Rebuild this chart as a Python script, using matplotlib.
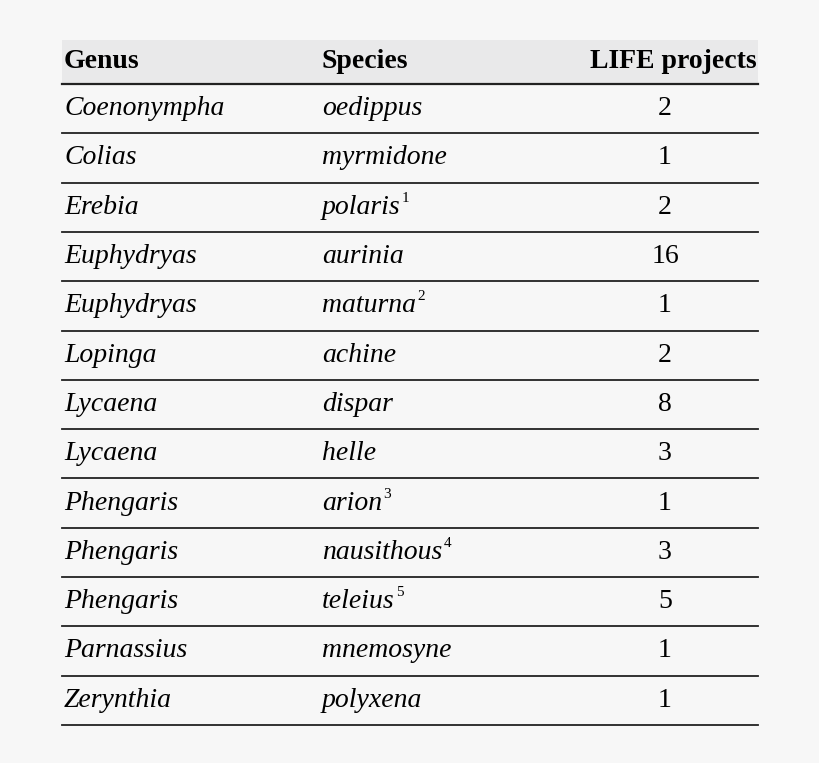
import matplotlib
matplotlib.use("Agg")
import matplotlib.pyplot as plt

genus = ["Coenonympha","Colias","Erebia","Euphydryas","Euphydryas","Lopinga","Lycaena","Lycaena",
         "Phengaris","Phengaris","Phengaris","Parnassius","Zerynthia"]
species = ["oedippus","myrmidone","polaris","aurinia","maturna","achine","dispar","helle",
           "arion","nausithous","teleius","mnemosyne","polyxena"]
notes = ["","","1","","2","","","","3","4","5","",""]
projects = [2,1,2,16,1,2,8,3,1,3,5,1,1]
headers = ["Genus","Species","LIFE projects"]

W, H = 820, 763
fig = plt.figure(figsize=(W/100, H/100), dpi=100, facecolor="#f7f7f7")
ax = fig.add_axes([0,0,1,1])
ax.set_xlim(0, W); ax.set_ylim(H, 0); ax.axis("off")
fam = "Liberation Serif"
ax.add_patch(plt.Rectangle((62, 40), 696, 44, color="#e9e9ea", lw=0))
ax.text(64, 61, headers[0], fontsize=20, fontweight="bold", family=fam, va="center")
ax.text(322, 61, headers[1], fontsize=20, fontweight="bold", family=fam, va="center")
ax.text(757, 61, headers[2], fontsize=20, fontweight="bold", family=fam, va="center", ha="right")
step = 49.3
ax.plot([62, 758], [84, 84], color="#222", lw=1.6)
fig.canvas.draw()
r = fig.canvas.get_renderer()
inv = ax.transData.inverted()
for i in range(len(genus)):
    yc = 84 + step*i + step/2
    ax.text(64, yc, genus[i], fontsize=20, style="italic", family=fam, va="center")
    t = ax.text(322, yc, species[i], fontsize=20, style="italic", family=fam, va="center")
    if notes[i]:
        bb = t.get_window_extent(r)
        x1 = inv.transform((bb.x1, 0))[0]
        ax.text(x1 + 1, yc - 9, notes[i], fontsize=11, family=fam, va="center")
    ax.text(665, yc, str(projects[i]), fontsize=20, family=fam, va="center", ha="center")
    y = 84 + step*(i+1)
    ax.plot([62, 758], [y, y], color="#222", lw=1.3)
fig.savefig("out.png", dpi=100, facecolor=fig.get_facecolor())
